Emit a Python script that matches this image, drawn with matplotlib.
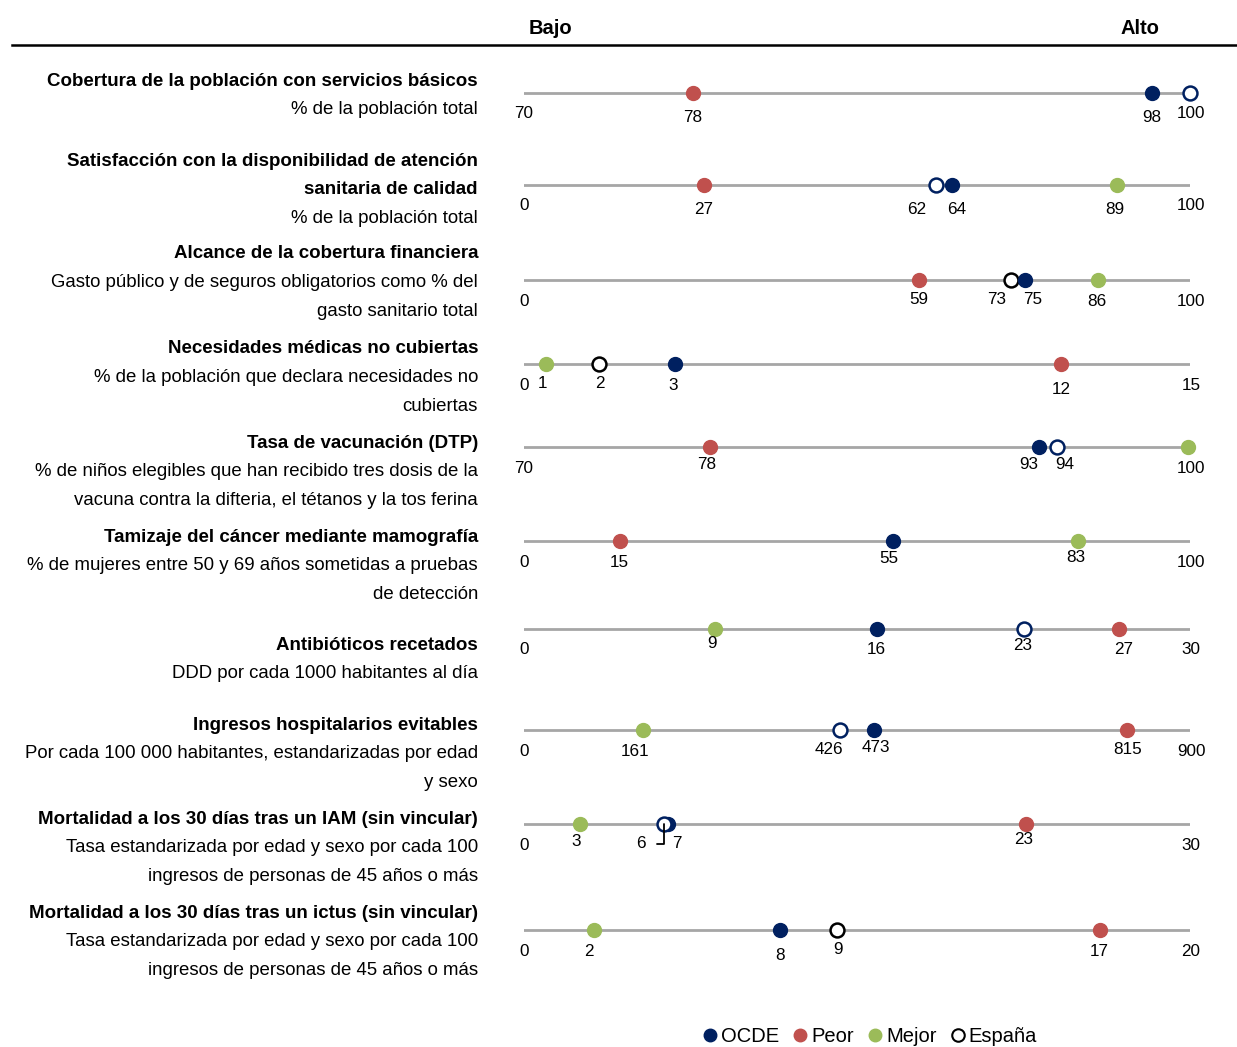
import matplotlib
matplotlib.use("Agg")
import matplotlib.pyplot as plt
from matplotlib.lines import Line2D

plt.rcParams['font.family'] = ['Liberation Sans Narrow', 'Liberation Sans', 'DejaVu Sans']
NUM_FONT = ['Liberation Sans', 'DejaVu Sans']
NUM_SIZE = 12.3

# Datos del gráfico (una fila por indicador)
titulos = [
    "Cobertura de la población con servicios básicos",
    "Satisfacción con la disponibilidad de atención\nsanitaria de calidad",
    "Alcance de la cobertura financiera",
    "Necesidades médicas no cubiertas",
    "Tasa de vacunación (DTP)",
    "Tamizaje del cáncer mediante mamografía",
    "Antibióticos recetados",
    "Ingresos hospitalarios evitables",
    "Mortalidad a los 30 días tras un IAM (sin vincular)",
    "Mortalidad a los 30 días tras un ictus (sin vincular)",
]
subtitulos = [
    "% de la población total",
    "% de la población total",
    "Gasto público y de seguros obligatorios como % del\ngasto sanitario total",
    "% de la población que declara necesidades no\ncubiertas",
    "% de niños elegibles que han recibido tres dosis de la\nvacuna contra la difteria, el tétanos y la tos ferina",
    "% de mujeres entre 50 y 69 años sometidas a pruebas\nde detección",
    "DDD por cada 1000 habitantes al día",
    "Por cada 100 000 habitantes, estandarizadas por edad\ny sexo",
    "Tasa estandarizada por edad y sexo por cada 100\ningresos de personas de 45 años o más",
    "Tasa estandarizada por edad y sexo por cada 100\ningresos de personas de 45 años o más",
]
minimos = [70, 0, 0, 0, 70, 0, 0, 0, 0, 0]
maximos = [100, 100, 100, 15, 100, 100, 30, 900, 30, 20]

ocde = [98.3, 64.3, 75.2, 3.4, 93.2, 55.4, 15.9, 473, 6.5, 7.7]
peor = [77.6, 27.0, 59.3, 12.1, 78.4, 14.4, 26.8, 815, 22.6, 17.3]
mejor = [None, 89.0, 86.2, 0.5, 99.9, 83.2, 8.6, 161, 2.5, 2.1]
espana = [100, 61.9, 73.1, 1.7, 94.0, None, 22.5, 427, 6.3, 9.4]

ocde_txt = ["98", "64", "75", "3", "93", "55", "16", "473", "7", "8"]
peor_txt = ["78", "27", "59", "12", "78", "15", "27", "815", "23", "17"]
mejor_txt = ["", "89", "86", "1", "100", "83", "9", "161", "3", "2"]
espana_txt = ["100", "62", "73", "2", "94", "", "23", "426", "6", "9"]

# colores
AZUL = "#002060"
ROJO = "#C0504D"
VERDE = "#9BBB59"
GRIS = "#A6A6A6"
borde_espana = [AZUL, AZUL, "black", "black", AZUL, AZUL, AZUL, AZUL, AZUL, "black"]

# maquetación (píxeles)
W, H = 1237, 1047
y_linea = [93, 185, 280, 364, 447, 541, 629, 730, 824, 930]
y_texto = [81, 161, 254, 349, 443, 537, 645, 725, 819, 913]
x0, x1 = 524, 1190
# desplazamientos de etiquetas (dx, dy en px) por fila: ocde, peor, mejor, espana
desp = {
    0: {"o": (0, 24), "p": (0, 24), "e": (0, 20)},
    1: {"o": (4, 24), "p": (0, 25), "m": (-2, 24), "e": (-20, 24)},
    2: {"o": (8, 20), "p": (0, 20), "m": (-1, 22), "e": (-14, 20)},
    3: {"o": (-2, 22), "p": (0, 25), "m": (-4, 20), "e": (0, 20)},
    4: {"o": (-10, 17), "p": (-4, 17), "m": (4, 19), "e": (8, 17)},
    5: {"o": (-4, 17), "p": (-1, 21), "m": (-2, 16)},
    6: {"o": (-1, 21), "p": (5, 21), "m": (-3, 15), "e": (-1, 16)},
    7: {"o": (2, 17), "p": (0, 19), "m": (-8, 21), "e": (-11, 19)},
    8: {"o": (9, 19), "p": (-2, 16), "m": (-3, 17), "e": (-23, 20)},
    9: {"o": (0, 25), "p": (-1, 21), "m": (-5, 21), "e": (1, 20)},
}
default_dy = 20


def fx(px):
    return px / W


def fy(py):
    return 1 - py / H


fig = plt.figure(figsize=(W / 100, H / 100), dpi=100)

# cabecera
fig.text(fx(550), fy(29), "Bajo", ha="center", va="center", fontsize=14.5, fontweight="bold")
fig.text(fx(1140), fy(29), "Alto", ha="center", va="center", fontsize=14.5, fontweight="bold")
fig.add_artist(Line2D([fx(12), fx(1237)], [fy(45), fy(45)], color="black", lw=1.8))

paso = 28.8
for i in range(len(titulos)):
    # texto a la izquierda
    y = y_texto[i]
    for linea in titulos[i].split("\n"):
        fig.text(fx(478), fy(y), linea, ha="right", va="center", fontsize=13.5, fontweight="bold")
        y += paso
    for linea in subtitulos[i].split("\n"):
        fig.text(fx(478), fy(y), linea, ha="right", va="center", fontsize=13.4)
        y += paso

    # eje de la fila
    alto = 40
    ax = fig.add_axes([fx(x0), fy(y_linea[i] + alto / 2), (x1 - x0) / W, alto / H])
    ax.set_xlim(minimos[i], maximos[i])
    ax.set_ylim(-1, 1)
    ax.axis("off")
    ax.plot([minimos[i], maximos[i]], [0, 0], color=GRIS, lw=2, zorder=1)

    # valores extremos
    ax.annotate(str(minimos[i]), (minimos[i], 0), xytext=(0, -21), textcoords="offset pixels",
                ha="center", va="center", fontsize=NUM_SIZE, family=NUM_FONT, annotation_clip=False)
    ax.annotate(str(maximos[i]), (maximos[i], 0), xytext=(1, -21), textcoords="offset pixels",
                ha="center", va="center", fontsize=NUM_SIZE, family=NUM_FONT, annotation_clip=False)

    series = [
        ("p", peor[i], peor_txt[i], dict(color=ROJO, mec=ROJO)),
        ("m", mejor[i], mejor_txt[i], dict(color=VERDE, mec=VERDE)),
        ("e", espana[i], espana_txt[i], dict(color="white", mec=borde_espana[i], mew=1.8)),
        ("o", ocde[i], ocde_txt[i], dict(color=AZUL, mec=AZUL)),
    ]
    if i == 8:
        series = [series[0], series[1], series[3], series[2]]
    for clave, v, txt, estilo in series:
        if v is None:
            continue
        ax.plot([v], [0], marker="o", ms=10, ls="none", clip_on=False, zorder=3, **estilo)
        # la etiqueta del máximo ya aparece en el extremo
        if txt == str(maximos[i]):
            continue
        dx, dy = desp[i].get(clave, (0, default_dy))
        if i == 8 and clave == "e":
            ax.annotate(txt, (v, 0), xytext=(dx, -dy), textcoords="offset pixels",
                        ha="center", va="center", fontsize=NUM_SIZE, family=NUM_FONT,
                        annotation_clip=False,
                        arrowprops=dict(arrowstyle="-", color="black", lw=1.3, shrinkA=6, shrinkB=0,
                                        connectionstyle="angle,angleA=0,angleB=90,rad=0"))
        else:
            ax.annotate(txt, (v, 0), xytext=(dx, -dy), textcoords="offset pixels",
                        ha="center", va="center", fontsize=NUM_SIZE, family=NUM_FONT,
                        annotation_clip=False)

# leyenda
leyenda = [
    Line2D([], [], marker="o", ls="none", color=AZUL, ms=9, label="OCDE"),
    Line2D([], [], marker="o", ls="none", color=ROJO, ms=9, label="Peor"),
    Line2D([], [], marker="o", ls="none", color=VERDE, ms=9, label="Mejor"),
    Line2D([], [], marker="o", ls="none", color="white", mec="black", mew=1.5, ms=9, label="España"),
]
fig.legend(handles=leyenda, loc="center", bbox_to_anchor=(fx(868), fy(1037)), ncol=4,
           frameon=False, fontsize=14.5, handletextpad=0.0, columnspacing=0.5, handlelength=1.1)

fig.savefig("out.png", dpi=100)
